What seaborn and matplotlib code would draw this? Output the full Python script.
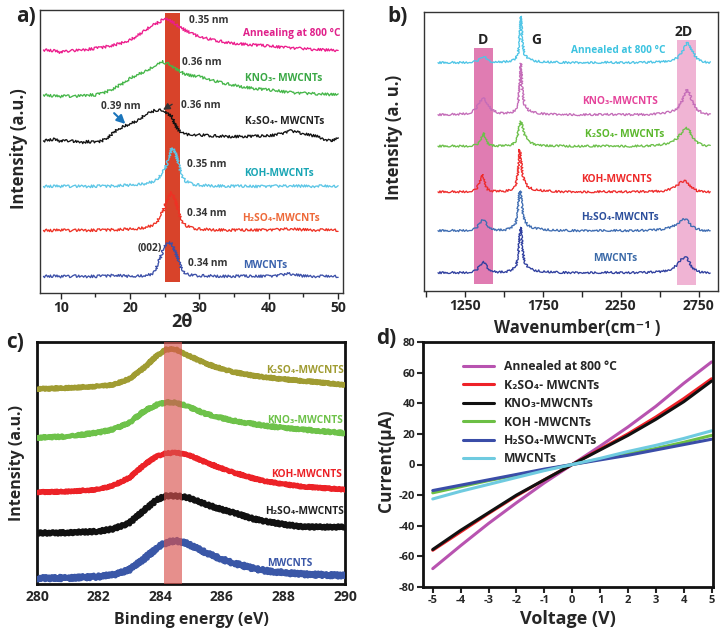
import numpy as np
import pandas as pd
import matplotlib
matplotlib.use("Agg")
import matplotlib.pyplot as plt
import seaborn as sns

# ============================================================================
# DATA - panel a : XRD (intensities, stacked)
# ============================================================================
xrd_x = [7.5, 9, 10, 11, 12, 13, 14, 15, 16, 17, 18, 19, 20, 21, 22, 23, 23.5, 24, 24.5,
         25, 25.5, 26, 26.5, 27, 27.5, 28, 29, 30, 32, 34, 36, 38, 40, 41, 42, 43, 44, 45,
         46, 47, 48, 49, 50]
xrd_mwcnt = [50, 51, 49, 50, 51, 49, 50, 50, 51, 52, 54, 51, 50, 51, 52, 56, 65, 85, 115, 142,
             152, 147, 125, 95, 70, 58, 53, 52, 51, 50, 51, 50, 51, 52, 55, 58, 54, 51, 50, 50,
             50, 50, 50]
xrd_h2so4 = [188, 188, 189, 188, 188, 189, 188, 189, 189, 190, 190, 191, 192, 193, 196, 202, 208,
             218, 235, 260, 288, 302, 280, 240, 215, 203, 195, 192, 190, 189, 189, 189, 190, 190,
             191, 193, 191, 190, 189, 189, 189, 190, 188]
xrd_koh = [320, 321, 320, 321, 320, 321, 320, 321, 321, 321, 322, 323, 324, 326, 328, 333, 337,
           344, 355, 372, 400, 436, 425, 385, 352, 336, 327, 324, 322, 321, 321, 320, 321, 321,
           321, 322, 321, 321, 320, 321, 321, 320, 321]
xrd_k2so4 = [457, 462, 455, 458, 455, 452, 455, 452, 458, 470, 488, 500, 508, 518, 532, 543, 548,
             550, 548, 545, 538, 530, 505, 488, 480, 477, 475, 475, 472, 470, 470, 471, 472, 475,
             480, 487, 484, 478, 474, 470, 462, 455, 467]
xrd_kno3 = [595, 592, 590, 592, 590, 593, 595, 595, 600, 608, 618, 630, 645, 655, 665, 675, 680,
            685, 695, 692, 688, 682, 675, 668, 662, 657, 652, 650, 638, 628, 620, 614, 610, 608,
            605, 603, 601, 600, 599, 598, 597, 596, 595]
xrd_anneal = [730, 728, 722, 727, 728, 730, 732, 735, 738, 742, 746, 752, 760, 772, 788, 800, 806,
              812, 818, 825, 822, 815, 808, 800, 795, 788, 778, 770, 760, 752, 748, 745, 742, 740,
              738, 737, 735, 734, 732, 731, 730, 729, 728]

# ============================================================================
# DATA - panel b : Raman (baseline offset + peak profile)
# ============================================================================
raman_x = [1075, 1150, 1225, 1280, 1320, 1345, 1360, 1370, 1380, 1395, 1420, 1460, 1510, 1550,
           1575, 1590, 1600, 1608, 1618, 1632, 1655, 1690, 1750, 1850, 2000, 2150, 2300, 2420,
           2520, 2580, 2615, 2640, 2660, 2675, 2690, 2710, 2740, 2780, 2825]
raman_anneal = [0, 1, 0, 2, 5, 10, 16, 18, 15, 8, 3, 2, 3, 6, 12, 30, 80, 140, 60, 25, 12, 6, 3,
                1, 0, 1, 0, 1, 3, 8, 15, 28, 45, 60, 55, 35, 12, 3, 0]
raman_kno3 = [0, 1, 2, 5, 20, 38, 48, 50, 45, 30, 15, 6, 4, 8, 15, 35, 90, 155, 70, 30, 15, 7, 3,
              1, 0, 1, 0, 1, 4, 10, 20, 38, 60, 77, 65, 40, 15, 4, 0]
raman_k2so4 = [0, 1, 0, 1, 5, 12, 30, 40, 28, 8, 2, 1, 2, 5, 15, 40, 65, 75, 60, 35, 15, 6, 2, 1,
               0, 1, 0, 1, 5, 12, 25, 40, 50, 55, 48, 30, 12, 2, 0]
raman_koh = [0, 1, 0, 2, 8, 30, 53, 40, 20, 7, 3, 2, 3, 8, 20, 60, 128, 100, 55, 30, 15, 8, 4, 1,
             0, 1, 0, 1, 3, 10, 20, 30, 33, 30, 22, 12, 4, 1, 0]
raman_h2so4 = [0, 1, 0, 2, 8, 22, 31, 33, 28, 15, 5, 2, 3, 10, 25, 70, 120, 115, 60, 30, 16, 8, 4,
               1, 0, 1, 0, 1, 4, 12, 22, 32, 35, 32, 22, 12, 5, 1, 0]
raman_mwcnt = [0, 1, 0, 2, 8, 20, 29, 32, 28, 15, 5, 2, 3, 8, 20, 50, 110, 137, 70, 32, 15, 8, 4,
               1, 0, 1, 0, 1, 4, 12, 25, 40, 47, 44, 32, 16, 5, 1, 0]
raman_offsets = [692, 535, 440, 302, 185, 58]

# ============================================================================
# DATA - panel c : XPS C1s
# ============================================================================
xps_x = [280, 281, 282, 282.5, 283, 283.5, 283.9, 284.2, 284.5, 284.9, 285.5, 286, 286.4, 287,
         287.4, 288, 288.5, 289, 290]
xps_k2so4 = [582, 585, 590, 595, 612, 647, 682, 700, 700, 682, 657, 642, 632, 622, 617, 611, 607,
             603, 594]
xps_kno3 = [437, 440, 452, 462, 482, 517, 535, 542, 541, 530, 507, 495, 487, 478, 472, 466, 462,
            458, 450]
xps_koh = [274, 276, 282, 295, 317, 357, 382, 390, 392, 386, 362, 345, 332, 316, 307, 298, 292,
           288, 282]
xps_h2so4 = [152, 153, 157, 165, 182, 222, 252, 263, 263, 258, 237, 222, 212, 195, 187, 178, 172,
             170, 170]
xps_mwcnt = [17, 18, 22, 28, 42, 77, 108, 124, 129, 120, 92, 74, 62, 47, 40, 34, 30, 28, 25]

# ============================================================================
# DATA - panel d : I-V
# ============================================================================
volt = [-5, -4, -3, -2, -1, 0, 1, 2, 3, 4, 5]
iv_anneal = [-68, -53, -38.5, -25, -12, 0, 12, 24.5, 38, 53, 67]
iv_k2so4 = [-56, -44, -32, -20.5, -10, 0, 10, 20, 31, 43, 56]
iv_kno3 = [-55.5, -43, -31.5, -20, -10, 0, 9.5, 19, 29.5, 41, 54.5]
iv_koh = [-18.5, -14.5, -10.5, -7, -3.5, 0, 3.5, 7, 10.5, 14.5, 19]
iv_h2so4 = [-17, -13.5, -10, -6.5, -3, 0, 3, 6, 9.5, 13, 16.5]
iv_mwcnt = [-22.5, -17.5, -13, -8.5, -4, 0, 4, 8.5, 12.5, 17, 22]
iv_names = ["Annealed at 800 °C", "K₂SO₄- MWCNTs", "KNO₃-MWCNTs", "KOH -MWCNTs",
            "H₂SO₄-MWCNTs", "MWCNTs"]
iv_colors = ["#b853b0", "#ee2228", "#111111", "#6cbf45", "#3a4da8", "#6fcbe0"]

# ============================================================================
# STYLE
# ============================================================================
sns.set_style("ticks")
plt.rcParams["font.family"] = ["Open Sans", "DejaVu Sans"]
plt.rcParams["font.weight"] = "bold"
plt.rcParams["axes.labelweight"] = "bold"
plt.rcParams["axes.unicode_minus"] = False

W, H = 726, 637
fig = plt.figure(figsize=(W / 100, H / 100), dpi=100)


def box(l, t, r, b):
    return fig.add_axes([l / W, 1 - b / H, (r - l) / W, (b - t) / H])


def trace(ax, x, y, color, lw=1.0, sketch=None, z=3):
    sns.lineplot(x=x, y=y, ax=ax, color=color, lw=lw, sort=False, estimator=None, zorder=z)
    if sketch:
        ax.lines[-1].set_sketch_params(*sketch)


# ---------------------------------------------------------------- panel a
ax = box(40, 10, 343, 293)
ax.axvspan(25.1, 27.2, ymin=32 / 850, ymax=842 / 850, color="#d8432a", lw=0, zorder=1)
xrd = [(xrd_mwcnt, "#3b4fa8"), (xrd_h2so4, "#ee3124"), (xrd_koh, "#5cc6e6"),
       (xrd_k2so4, "#111111"), (xrd_kno3, "#45b649"), (xrd_anneal, "#ec1c8c")]
for y, c in xrd:
    trace(ax, xrd_x, y, c, lw=0.95, sketch=(1.3, 1.5, 2.5))
ax.set_xlim(7, 50.7)
ax.set_ylim(0, 850)
ax.set_yticks([])
ax.set_xticks([10, 20, 30, 40, 50])
ax.set_xticks([15, 25, 35, 45], minor=True)
ax.tick_params(axis="x", which="major", length=4, width=1, labelsize=10, pad=2)
ax.tick_params(axis="x", which="minor", length=3, width=1, bottom=True)
for s in ax.spines.values():
    s.set_color("#333333")
    s.set_linewidth(1)
ax.set_ylabel("Intensity (a.u.)", fontsize=12)
ax.yaxis.set_label_coords(-0.04, 0.51)
ax.set_xlabel("2θ", fontsize=13)
ax.xaxis.set_label_coords(0.47, -0.07)

kw = dict(fontsize=7.3, ha="center", va="center", color="#333333")
for x, y, t in [(31.4, 818, "0.35 nm"), (30.3, 692, "0.36 nm"), (18.6, 560, "0.39 nm"),
                (30.2, 562, "0.36 nm"), (31.1, 387, "0.35 nm"), (31.1, 240, "0.34 nm"),
                (22.8, 135, "(002)"), (31.2, 90, "0.34 nm")]:
    ax.text(x, y, t, **kw)
for x, y, t, c in [(43.3, 780, "Annealing at 800 °C", "#e0208a"),
                   (42.1, 643, "KNO₃- MWCNTs", "#3aa845"),
                   (42.3, 515, "K₂SO₄- MWCNTs", "#222222"),
                   (41.5, 360, "KOH-MWCNTs", "#1aa6b5"),
                   (41.7, 223, "H₂SO₄-MWCNTs", "#ee6a3a"),
                   (39.5, 83, "MWCNTs", "#3a62ad")]:
    ax.text(x, y, t, fontsize=7.3, ha="center", va="center", color=c)
ax.annotate("", xy=(19.6, 502), xytext=(17.4, 546),
            arrowprops=dict(arrowstyle="-|>,head_length=0.5,head_width=0.25", color="#1b75bb", lw=1.5))
ax.annotate("", xy=(24.4, 546), xytext=(26.4, 571),
            arrowprops=dict(arrowstyle="-|>,head_length=0.4,head_width=0.2", color="#333333", lw=1))

# ---------------------------------------------------------------- panel b
ax = box(424, 12, 718, 291)
ax.axvspan(1304, 1428, ymin=22 / 845, ymax=735 / 845, color="#e07cb2", lw=0, zorder=1)
ax.axvspan(2611, 2736, ymin=18 / 845, ymax=760 / 845, color="#f0b4d4", lw=0, zorder=1)
raman = [raman_anneal, raman_kno3, raman_k2so4, raman_koh, raman_h2so4, raman_mwcnt]
raman_colors = ["#4fc5e6", "#c46cb8", "#6cc04a", "#ee2a2a", "#3f6db2", "#2f3f9f"]
for prof, off, c in zip(raman, raman_offsets, raman_colors):
    trace(ax, raman_x, [off + v for v in prof], c, lw=0.95, sketch=(1.0, 1.2, 2.5))
ax.set_xlim(985, 2875)
ax.set_ylim(3, 845)
ax.set_yticks([])
ax.set_xticks([1250, 1750, 2250, 2750])
ax.set_xticks([1000, 1500, 2000, 2500], minor=True)
ax.tick_params(axis="x", which="major", length=4, width=1, labelsize=10, pad=2)
ax.tick_params(axis="x", which="minor", length=4, width=1, bottom=True)
for s in ax.spines.values():
    s.set_color("#333333")
    s.set_linewidth(1)
ax.set_ylabel("Intensity (a. u.)", fontsize=12)
ax.yaxis.set_label_coords(-0.07, 0.55)
ax.set_xlabel("Wavenumber(cm⁻¹ )", fontsize=12)
ax.xaxis.set_label_coords(0.52, -0.1)
for x, y, t in [(1366, 762, "D"), (1706, 762, "G"), (2657, 785, "2D")]:
    ax.text(x, y, t, fontsize=10, ha="center", va="center", color="#222222")
for x, y, t, c in [(2236, 728, "Annealed at 800 °C", "#3cc3e0"),
                   (2244, 575, "KNO₃-MWCNTS", "#e5449b"),
                   (2273, 475, "K₂SO₄- MWCNTs", "#5cb82e"),
                   (2225, 340, "KOH-MWCNTS", "#ee2a2a"),
                   (2242, 225, "H₂SO₄-MWCNTs", "#2c4f9c"),
                   (2213, 102, "MWCNTs", "#3b6aa8")]:
    ax.text(x, y, t, fontsize=7.3, ha="center", va="center", color=c)

# ---------------------------------------------------------------- panel c
ax = box(37, 342, 345, 584)
xps = [(xps_k2so4, "#a09c32", (0.8, 3, 2)), (xps_kno3, "#6ec24a", (1.0, 2, 2)),
       (xps_koh, "#ec2227", (0.8, 3, 2)), (xps_h2so4, "#111111", (1.4, 4, 1.5)),
       (xps_mwcnt, "#3a57a7", (1.8, 3, 1.5))]
for y, c, sk in xps:
    trace(ax, xps_x, y, c, lw=3.6, sketch=sk)
ax.axvspan(284.11, 284.71, color="#d9534f", alpha=0.65, lw=0, zorder=6)
ax.set_xlim(280, 290)
ax.set_ylim(0, 722)
ax.set_yticks([])
ax.set_xticks(range(280, 291, 2))
ax.tick_params(axis="x", length=0, labelsize=10, pad=4)
for s in ax.spines.values():
    s.set_color("#111111")
    s.set_linewidth(2)
ax.set_ylabel("Intensity (a.u.)", fontsize=11.5)
ax.yaxis.set_label_coords(-0.04, 0.5)
ax.set_xlabel("Binding energy (eV)", fontsize=11.5)
ax.xaxis.set_label_coords(0.5, -0.115)
for x, y, t, c in [(288.7, 637, "K₂SO₄-MWCNTS", "#a09c32"),
                   (288.7, 487, "KNO₃-MWCNTS", "#6ec24a"),
                   (288.75, 327, "KOH-MWCNTS", "#ec2227"),
                   (288.7, 217, "H₂SO₄-MWCNTS", "#222222"),
                   (288.2, 60, "MWCNTS", "#3a57a7")]:
    ax.text(x, y, t, fontsize=7.3, ha="center", va="center", color=c)

# ---------------------------------------------------------------- panel d
ax = box(423, 342, 713, 587)
iv = [iv_anneal, iv_k2so4, iv_kno3, iv_koh, iv_h2so4, iv_mwcnt]
df = pd.DataFrame({
    "V": volt * len(iv),
    "I": [v for serie in iv for v in serie],
    "sample": [n for n in iv_names for _ in volt],
})
sns.lineplot(data=df, x="V", y="I", hue="sample", hue_order=iv_names,
             palette=dict(zip(iv_names, iv_colors)), lw=2.2, ax=ax, estimator=None)
ax.set_xlim(-5.35, 5.05)
ax.set_ylim(-80, 80)
ax.set_xticks(volt)
ax.set_yticks(range(-80, 81, 20))
ax.tick_params(length=4, width=1.5, labelsize=8, pad=1.5)
for s in ax.spines.values():
    s.set_color("#111111")
    s.set_linewidth(2)
ax.set_xlabel("Voltage (V)", fontsize=13)
ax.xaxis.set_label_coords(0.5, -0.094)
ax.set_ylabel("Current(μA)", fontsize=12.5)
ax.yaxis.set_label_coords(-0.097, 0.514)
leg = ax.legend(loc="upper left", bbox_to_anchor=(0.1, 0.97), frameon=False, fontsize=8.7,
                handlelength=2.6, labelspacing=0.45, handletextpad=0.8)
for ln in leg.get_lines():
    ln.set_linewidth(2.2)

# ---------------------------------------------------------------- panel letters
for x, y, t in [(26, 16, "a)"), (398, 17, "b)"), (15, 342, "c)"), (386, 339, "d)")]:
    fig.text(x / W, 1 - y / H, t, fontsize=15, ha="center", va="center", color="#222222")

fig.savefig("out.png", dpi=100)
